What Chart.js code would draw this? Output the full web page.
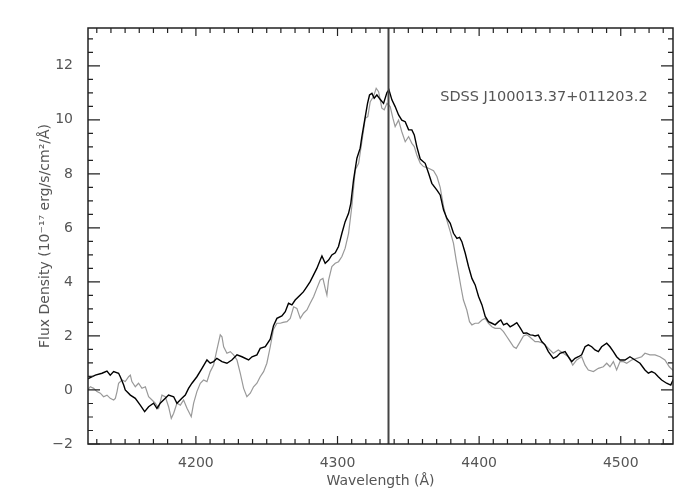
<!DOCTYPE html>
<html lang="en">
<head>
  <meta charset="UTF-8" />
  <title>SDSS J100013.37+011203.2</title>
  <style>
    body {
      margin: 0;
      padding: 0;
      background: #fff;
    }
    #grafico {
      display: block;
    }
  </style>
</head>
<body>
  <canvas id="grafico" width="700" height="500"></canvas>

  <script src="https://cdn.jsdelivr.net/npm/chart.js"></script>
  <script>
    // black spectrum
    const waveBlack = [
      4121.9, 4124.3, 4129.0, 4133.7, 4137.2, 4139.5, 4141.9, 4145.4, 4146.6, 4149.0,
      4150.1, 4153.7, 4157.2, 4160.7, 4163.8, 4166.6, 4170.1, 4172.5, 4174.8, 4178.4,
      4180.7, 4184.3, 4186.6, 4190.1, 4192.5, 4194.8, 4197.2, 4200.7, 4204.3, 4207.8,
      4210.1, 4212.5, 4214.8, 4218.4, 4221.9, 4225.4, 4229.0, 4232.5, 4237.2, 4239.6,
      4243.1, 4245.4, 4249.0, 4252.5, 4254.8, 4257.2, 4260.7, 4263.1, 4265.4, 4267.8,
      4270.1, 4273.7, 4276.0, 4278.4, 4280.7, 4283.1, 4285.4, 4287.8, 4289.0, 4291.3,
      4293.7, 4296.0, 4298.4, 4300.7, 4303.1, 4305.4, 4307.8, 4309.4, 4311.3, 4313.7,
      4316.0, 4317.2, 4319.6, 4321.2, 4322.6, 4324.3, 4325.9, 4327.8, 4330.1, 4332.5,
      4334.9, 4336.3, 4338.4, 4340.7, 4343.1, 4345.4, 4347.8, 4350.2, 4352.5, 4354.2,
      4356.0, 4358.4, 4361.9, 4364.3, 4366.6, 4370.2, 4372.5, 4374.9, 4377.2, 4379.6,
      4381.9, 4384.3, 4386.2, 4387.8, 4390.2, 4392.5, 4394.9, 4397.2, 4399.6, 4402.0,
      4404.3, 4406.6, 4409.0, 4411.3, 4413.7, 4415.3, 4417.2, 4419.6, 4421.9, 4424.3,
      4426.6, 4429.0, 4431.3, 4433.6, 4436.0, 4437.8, 4439.5, 4441.8, 4444.2, 4446.5,
      4448.9, 4452.4, 4454.8, 4457.1, 4460.7, 4463.0, 4465.4, 4467.7, 4470.1, 4472.4,
      4474.8, 4477.1, 4479.5, 4481.8, 4484.2, 4486.5, 4490.1, 4492.4, 4494.8, 4497.1,
      4499.5, 4503.0, 4506.5, 4510.1, 4513.6, 4517.1, 4519.5, 4521.8, 4524.2, 4526.5,
      4528.9, 4532.4, 4535.3, 4537.1
    ];
    const fluxBlack = [
      0.37, 0.43, 0.55, 0.62, 0.70, 0.55, 0.68, 0.62, 0.49, 0.18,
      0.00, -0.19, -0.31, -0.56, -0.80, -0.62, -0.49, -0.68, -0.49, -0.31,
      -0.19, -0.25, -0.49, -0.31, -0.19, 0.06, 0.25, 0.49, 0.80, 1.11,
      0.99, 1.05, 1.17, 1.05, 0.99, 1.11, 1.30, 1.23, 1.11, 1.23,
      1.30, 1.54, 1.60, 1.88, 2.38, 2.65, 2.74, 2.90, 3.21, 3.15,
      3.33, 3.52, 3.64, 3.83, 4.01, 4.26, 4.50, 4.81, 4.96, 4.69,
      4.81, 5.00, 5.08, 5.31, 5.80, 6.23, 6.54, 6.91, 7.77, 8.58,
      8.95, 9.38, 10.12, 10.61, 10.92, 10.98, 10.80, 10.92, 10.76, 10.61,
      11.01, 11.11, 10.74, 10.49, 10.18, 9.99, 9.93, 9.63, 9.63, 9.44,
      9.01, 8.55, 8.39, 8.02, 7.65, 7.40, 7.22, 6.66, 6.36, 6.17,
      5.80, 5.61, 5.65, 5.49, 5.06, 4.57, 4.13, 3.89, 3.46, 3.15,
      2.72, 2.53, 2.47, 2.41, 2.53, 2.59, 2.41, 2.47, 2.34, 2.41,
      2.49, 2.30, 2.10, 2.11, 2.04, 2.03, 2.00, 2.03, 1.79, 1.67,
      1.42, 1.17, 1.23, 1.36, 1.42, 1.23, 1.05, 1.17, 1.23, 1.30,
      1.60, 1.67, 1.60, 1.48, 1.42, 1.60, 1.73, 1.60, 1.42, 1.23,
      1.11, 1.11, 1.23, 1.11, 0.99, 0.74, 0.62, 0.68, 0.62, 0.49,
      0.37, 0.25, 0.18, 0.39
    ];

    // grey spectrum
    const waveGrey = [
      4122.0, 4123.6, 4125.4, 4127.8, 4130.1, 4132.5, 4134.8, 4137.2, 4139.5, 4141.9,
      4143.1, 4144.3, 4145.4, 4147.8, 4150.1, 4152.5, 4153.7, 4154.8, 4157.2, 4159.5,
      4161.9, 4164.3, 4166.6, 4169.0, 4171.3, 4173.7, 4176.0, 4178.4, 4180.7, 4182.6,
      4184.3, 4186.6, 4189.0, 4191.3, 4193.7, 4196.7, 4198.4, 4200.7, 4203.1, 4205.4,
      4207.8, 4210.1, 4212.5, 4214.8, 4217.2, 4218.4, 4219.6, 4221.9, 4224.3, 4226.6,
      4229.0, 4231.3, 4233.7, 4236.0, 4238.4, 4240.7, 4243.1, 4245.4, 4247.8, 4250.1,
      4252.5, 4254.8, 4257.2, 4259.6, 4261.5, 4264.3, 4266.6, 4269.0, 4271.3, 4273.7,
      4276.0, 4278.4, 4280.7, 4283.1, 4285.4, 4287.8, 4289.7, 4291.3, 4292.5, 4293.7,
      4296.0, 4298.4, 4300.7, 4303.1, 4305.4, 4307.8, 4310.1, 4312.5, 4314.9, 4317.2,
      4319.6, 4321.4, 4323.1, 4325.4, 4327.3, 4329.0, 4331.3, 4333.0, 4334.9, 4337.2,
      4339.1, 4340.7, 4343.1, 4345.4, 4347.8, 4350.2, 4352.5, 4354.2, 4356.0, 4358.4,
      4360.7, 4364.3, 4367.8, 4370.2, 4372.5, 4374.9, 4377.2, 4379.6, 4381.9, 4383.8,
      4385.5, 4387.1, 4388.9, 4391.3, 4393.2, 4394.9, 4397.2, 4399.6, 4402.0, 4404.3,
      4406.6, 4409.0, 4411.3, 4414.9, 4417.2, 4419.6, 4421.9, 4424.3, 4426.2, 4428.7,
      4431.3, 4433.6, 4436.0, 4439.5, 4441.8, 4445.4, 4448.9, 4452.4, 4455.9, 4459.5,
      4463.0, 4466.1, 4468.9, 4472.4, 4474.8, 4477.1, 4480.7, 4484.2, 4487.7, 4490.1,
      4492.4, 4494.8, 4497.1, 4499.5, 4501.9, 4504.2, 4507.7, 4511.3, 4514.8, 4517.1,
      4520.6, 4524.2, 4527.7, 4531.2, 4534.3, 4537.1
    ];
    const fluxGrey = [
      1.17, 0.00, 0.12, 0.06, -0.06, -0.12, -0.25, -0.19, -0.31, -0.37,
      -0.31, -0.06, 0.25, 0.37, 0.31, 0.49, 0.55, 0.31, 0.12, 0.25,
      0.06, 0.12, -0.25, -0.37, -0.49, -0.68, -0.19, -0.25, -0.62, -1.05,
      -0.86, -0.49, -0.56, -0.37, -0.68, -0.99, -0.49, -0.06, 0.25, 0.37,
      0.31, 0.68, 0.92, 1.48, 2.04, 1.97, 1.60, 1.36, 1.42, 1.30,
      1.11, 0.62, 0.06, -0.25, -0.12, 0.12, 0.25, 0.49, 0.68, 0.99,
      1.60, 2.25, 2.47, 2.47, 2.50, 2.53, 2.65, 3.08, 3.02, 2.65,
      2.84, 2.96, 3.21, 3.45, 3.76, 4.07, 4.13, 3.76, 3.52, 4.07,
      4.57, 4.69, 4.75, 4.94, 5.25, 5.80, 6.79, 8.14, 8.39, 9.19,
      10.06, 10.12, 10.67, 10.86, 11.17, 11.04, 10.43, 10.37, 10.61, 10.49,
      10.06, 9.75, 9.99, 9.56, 9.19, 9.38, 9.13, 9.01, 8.70, 8.40,
      8.27, 8.21, 8.12, 7.90, 7.50, 6.79, 6.29, 5.86, 5.43, 4.81,
      4.32, 3.83, 3.33, 2.96, 2.53, 2.41, 2.47, 2.47, 2.59, 2.65,
      2.47, 2.34, 2.28, 2.28, 2.16, 1.97, 1.79, 1.60, 1.54, 1.76,
      2.00, 2.05, 1.95, 1.79, 1.79, 1.73, 1.54, 1.36, 1.48, 1.36,
      1.23, 0.92, 1.11, 1.23, 0.92, 0.74, 0.68, 0.80, 0.86, 0.99,
      0.86, 1.05, 0.74, 1.05, 1.05, 0.99, 1.11, 1.17, 1.23, 1.36,
      1.30, 1.30, 1.23, 1.11, 0.86, 0.72
    ];

    const lineaVertical = 4336;
    const rotulo = 'SDSS J100013.37+011203.2';
    const rotuloPos = [4372.5, 10.85];

    const xMin = 4123.8, xMax = 4536.9;
    const yMin = -2, yMax = 13.4;
    const xTicks = [4200, 4300, 4400, 4500];
    const yTicks = [-2, 0, 2, 4, 6, 8, 10, 12];
    const xMenor = 10;
    const yMenor = 0.5;

    const fonte = { family: 'DejaVu Sans', size: 14 };
    const cinzaTexto = '#555';

    function pares(xs, ys) {
      return xs.map((x, i) => ({ x: x, y: ys[i] }));
    }

    // frame plus inward ticks on the four sides, IDL style
    const moldura = {
      id: 'moldura',
      afterDatasetsDraw(chart) {
        const { ctx, chartArea: a, scales: { x, y } } = chart;
        ctx.save();
        ctx.strokeStyle = '#222';
        ctx.lineWidth = 1.5;
        ctx.strokeRect(a.left, a.top, a.right - a.left, a.bottom - a.top);
        ctx.lineWidth = 1.2;
        ctx.beginPath();
        for (let v = Math.ceil(xMin / xMenor) * xMenor; v <= xMax; v += xMenor) {
          const px = x.getPixelForValue(v);
          const len = v % 100 === 0 ? 8 : 5;
          ctx.moveTo(px, a.bottom); ctx.lineTo(px, a.bottom - len);
          ctx.moveTo(px, a.top); ctx.lineTo(px, a.top + len);
        }
        for (let v = yMin; v <= yMax; v += yMenor) {
          const py = y.getPixelForValue(v);
          const len = Math.abs(v % 2) < 1e-6 ? 12 : 5;
          ctx.moveTo(a.left, py); ctx.lineTo(a.left + len, py);
          ctx.moveTo(a.right, py); ctx.lineTo(a.right - len, py);
        }
        ctx.stroke();

        ctx.fillStyle = cinzaTexto;
        ctx.font = '14.5px "DejaVu Sans"';
        ctx.textAlign = 'left';
        ctx.textBaseline = 'middle';
        ctx.fillText(rotulo, x.getPixelForValue(rotuloPos[0]), y.getPixelForValue(rotuloPos[1]));
        ctx.restore();
      }
    };

    new Chart(document.getElementById('grafico'), {
      type: 'line',
      data: {
        datasets: [
          {
            data: [{ x: lineaVertical, y: yMin }, { x: lineaVertical, y: yMax }],
            borderColor: '#444',
            borderWidth: 2,
            pointRadius: 0
          },
          {
            data: pares(waveBlack, fluxBlack),
            borderColor: '#000',
            borderWidth: 1.4,
            pointRadius: 0,
            tension: 0
          },
          {
            data: pares(waveGrey, fluxGrey),
            borderColor: '#999',
            borderWidth: 1.2,
            pointRadius: 0,
            tension: 0
          }
        ]
      },
      options: {
        responsive: false,
        animation: false,
        devicePixelRatio: 1,
        layout: { padding: { left: 0, right: 27, top: 28, bottom: 0 } },
        plugins: { legend: { display: false }, tooltip: { enabled: false } },
        scales: {
          x: {
            type: 'linear',
            min: xMin,
            max: xMax,
            grid: { display: false },
            border: { display: false },
            afterBuildTicks: s => { s.ticks = xTicks.map(v => ({ value: v })); },
            afterFit: s => { s.height = 56; },
            ticks: {
              color: cinzaTexto,
              font: fonte,
              padding: 3,
              maxRotation: 0,
              callback: v => String(v)
            },
            title: {
              display: true,
              text: 'Wavelength (Å)',
              color: cinzaTexto,
              font: fonte,
              padding: { top: 0, bottom: 10 }
            }
          },
          y: {
            type: 'linear',
            min: yMin,
            max: yMax,
            grid: { display: false },
            border: { display: false },
            afterBuildTicks: s => { s.ticks = yTicks.map(v => ({ value: v })); },
            afterFit: s => { s.width = 88; },
            ticks: {
              color: cinzaTexto,
              font: fonte,
              padding: 7,
              callback: v => v < 0 ? '\u2212' + Math.abs(v) : String(v)
            },
            title: {
              display: true,
              text: 'Flux Density (10\u207B\u00B9\u2077 erg/s/cm\u00B2/Å)',
              color: cinzaTexto,
              font: fonte,
              padding: { top: 37, bottom: 0 }
            }
          }
        }
      },
      plugins: [moldura]
    });
  </script>
</body>
</html>
